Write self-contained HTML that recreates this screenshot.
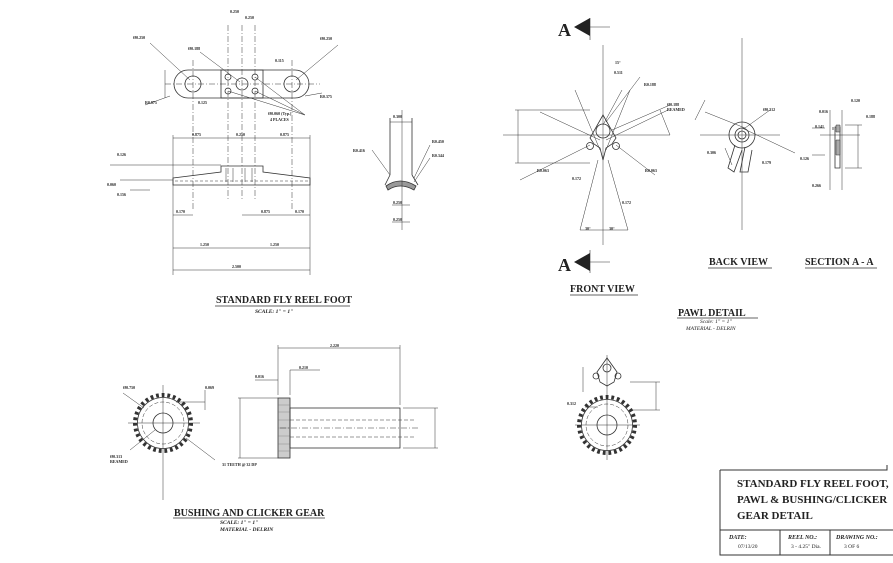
<!DOCTYPE html>
<html><head><meta charset="utf-8"><style>
html,body{margin:0;padding:0;background:#fff;}
svg{display:block;}
text{font-family:"Liberation Serif",serif;fill:#222;}
.s{font-family:"Liberation Sans",sans-serif;font-size:4px;font-weight:bold;}
.t{font-size:10px;font-weight:bold;}
</style></head><body>
<svg width="893" height="563" viewBox="0 0 893 563" xmlns="http://www.w3.org/2000/svg">
<rect width="893" height="563" fill="#fff"/>
<g stroke="#333" stroke-width="0.8" fill="none">
<path d="M188,70 H295 A14,14 0 0 1 295,98 H188 A14,14 0 0 1 188,70 Z"/>
<rect x="221" y="70" width="42" height="28"/>
<circle cx="193" cy="84" r="8"/><circle cx="242" cy="84" r="6"/><circle cx="292" cy="84" r="8"/>
<circle cx="228" cy="77" r="3"/><circle cx="255" cy="77" r="3"/><circle cx="228" cy="91" r="3"/><circle cx="255" cy="91" r="3"/>
<g stroke-width="0.5" stroke-dasharray="6,2,1,2">
<line x1="165" y1="84" x2="320" y2="84"/><line x1="228" y1="25" x2="228" y2="200"/><line x1="242" y1="25" x2="242" y2="200"/><line x1="255" y1="25" x2="255" y2="200"/>
<line x1="193" y1="60" x2="193" y2="210"/><line x1="292" y1="60" x2="292" y2="210"/></g>
<g stroke-width="0.5">
<line x1="165" y1="70" x2="165" y2="98"/><line x1="150" y1="43" x2="190" y2="80"/><line x1="338" y1="45" x2="296" y2="80"/>
<line x1="200" y1="52" x2="240" y2="82"/><line x1="255" y1="77" x2="305" y2="115"/><line x1="255" y1="91" x2="305" y2="115"/>
<line x1="228" y1="91" x2="305" y2="115"/><line x1="145" y1="105" x2="170" y2="96"/><line x1="322" y1="93" x2="305" y2="96"/>
<line x1="173" y1="135" x2="173" y2="275"/><line x1="310" y1="135" x2="310" y2="275"/>
<line x1="173" y1="138" x2="310" y2="138"/><line x1="173" y1="248" x2="310" y2="248"/><line x1="173" y1="270" x2="310" y2="270"/>
<line x1="173" y1="215" x2="193" y2="215"/><line x1="242" y1="215" x2="310" y2="215"/>
<line x1="110" y1="165" x2="221" y2="165"/><line x1="120" y1="180" x2="173" y2="180"/><line x1="130" y1="190" x2="150" y2="190"/>
</g>
<path d="M173,178 L221,172 V166 H263 V172 L310,178 V185 H173 Z"/>
<path d="M175,181 H308" stroke-dasharray="3,2" stroke-width="0.5"/>
<g stroke-width="0.5"><line x1="226" y1="168" x2="226" y2="182"/><line x1="233" y1="168" x2="233" y2="182"/><line x1="245" y1="168" x2="245" y2="182"/><line x1="252" y1="168" x2="252" y2="182"/></g>
<path d="M390,118 V175 M412,118 V175 M390,175 L385,185 M412,175 L418,185"/>
<path d="M386,186 Q400,176 416,186 L414,190 Q400,182 388,190 Z" fill="#999"/>
<g stroke-width="0.5"><line x1="390" y1="122" x2="412" y2="122"/><line x1="402" y1="110" x2="402" y2="230"/><line x1="392" y1="205" x2="410" y2="205"/><line x1="392" y1="222" x2="410" y2="222"/><line x1="372" y1="150" x2="390" y2="175"/><line x1="430" y1="145" x2="414" y2="178"/><line x1="430" y1="158" x2="414" y2="182"/></g>
<g stroke-width="0.6"><line x1="590" y1="18" x2="590" y2="40"/><line x1="590" y1="27" x2="610" y2="27"/><line x1="590" y1="250" x2="590" y2="273"/><line x1="590" y1="262" x2="610" y2="262"/></g>
<path d="M574,27 L590,18 V36 Z M574,262 L590,253 V271 Z" fill="#222" stroke="none"/>
<g stroke-width="0.5">
<line x1="503" y1="135" x2="670" y2="135"/><line x1="603" y1="45" x2="603" y2="245"/>
<line x1="575" y1="90" x2="600" y2="150"/><line x1="630" y1="90" x2="606" y2="150"/>
<line x1="540" y1="112" x2="600" y2="140"/><line x1="668" y1="110" x2="606" y2="140"/>
<line x1="622" y1="90" x2="603" y2="125"/><line x1="580" y1="230" x2="598" y2="160"/><line x1="628" y1="230" x2="608" y2="160"/>
<line x1="580" y1="230" x2="628" y2="230"/><line x1="515" y1="110" x2="590" y2="110"/><line x1="515" y1="163" x2="590" y2="163"/>
<line x1="518" y1="110" x2="518" y2="163"/><line x1="520" y1="180" x2="590" y2="145"/><line x1="655" y1="175" x2="616" y2="145"/>
<line x1="640" y1="77" x2="606" y2="122"/><line x1="670" y1="105" x2="612" y2="130"/><line x1="660" y1="110" x2="670" y2="135"/>
</g>
<path d="M590,138 L603,115 L616,138 L612,144 L606,148 L603,160 L600,148 L594,144 Z"/>
<circle cx="603" cy="131" r="7"/><circle cx="590" cy="146" r="3.5"/><circle cx="616" cy="146" r="3.5"/>
<g stroke-width="0.5"><line x1="700" y1="135" x2="780" y2="135"/><line x1="742" y1="38" x2="742" y2="230"/><line x1="742" y1="128" x2="795" y2="153"/><line x1="705" y1="112" x2="745" y2="128"/><line x1="695" y1="120" x2="705" y2="100"/><line x1="745" y1="128" x2="770" y2="110"/><line x1="725" y1="148" x2="732" y2="165"/></g>
<circle cx="742" cy="135" r="13"/><circle cx="742" cy="135" r="7"/><circle cx="742" cy="135" r="4"/>
<path d="M735,145 L728,168 L734,172 L742,150 M745,147 L740,172 L748,172 L752,150"/>
<path d="M835,127 H840 V168 H835 Z M833,127 V130"/>
<path d="M836,140 H840 V155 H836 Z M836,125 H840 V132 H836 Z" fill="#aaa" stroke-width="0.5"/>
<g stroke-width="0.5"><line x1="820" y1="135" x2="860" y2="135"/><line x1="830" y1="110" x2="830" y2="190"/><line x1="842" y1="110" x2="842" y2="190"/><line x1="845" y1="125" x2="862" y2="125"/><line x1="845" y1="168" x2="862" y2="168"/><line x1="858" y1="125" x2="858" y2="168"/><line x1="812" y1="128" x2="825" y2="128"/><line x1="812" y1="155" x2="825" y2="155"/></g>
<circle cx="163" cy="423" r="21" stroke-dasharray="4,2" stroke-width="0.5"/>
<circle cx="163" cy="423" r="10"/>
<circle cx="163" cy="423" r="28" stroke-dasharray="2.8,2.87" stroke-width="4"/>
<circle cx="163" cy="423" r="25.5"/>
<g stroke-width="0.5"><line x1="163" y1="385" x2="163" y2="500"/><line x1="128" y1="423" x2="200" y2="423"/>
<line x1="123" y1="393" x2="144" y2="408"/><line x1="130" y1="450" x2="155" y2="430"/><line x1="186" y1="438" x2="215" y2="460"/><line x1="176" y1="402" x2="205" y2="402"/><line x1="205" y1="390" x2="205" y2="410"/></g>
<rect x="278" y="398" width="12" height="60" fill="#ccc"/>
<g stroke-width="0.3" stroke="#666"><line x1="278" y1="405" x2="290" y2="405"/><line x1="278" y1="412" x2="290" y2="412"/><line x1="278" y1="420" x2="290" y2="420"/><line x1="278" y1="428" x2="290" y2="428"/><line x1="278" y1="436" x2="290" y2="436"/><line x1="278" y1="444" x2="290" y2="444"/><line x1="278" y1="451" x2="290" y2="451"/></g>
<rect x="290" y="408" width="110" height="40"/>
<g stroke-width="0.5"><line x1="290" y1="420" x2="415" y2="420" stroke-dasharray="4,2"/><line x1="290" y1="437" x2="415" y2="437" stroke-dasharray="4,2"/><line x1="280" y1="428" x2="420" y2="428" stroke-dasharray="6,2,1,2"/>
<line x1="278" y1="345" x2="278" y2="395"/><line x1="400" y1="345" x2="400" y2="405"/><line x1="278" y1="348" x2="400" y2="348"/>
<line x1="238" y1="398" x2="278" y2="398"/><line x1="238" y1="458" x2="278" y2="458"/><line x1="240" y1="398" x2="240" y2="458"/>
<line x1="403" y1="408" x2="438" y2="408"/><line x1="403" y1="448" x2="438" y2="448"/><line x1="435" y1="408" x2="435" y2="448"/>
<line x1="290" y1="370" x2="290" y2="395"/><line x1="290" y1="370" x2="320" y2="370"/><line x1="255" y1="380" x2="278" y2="380"/></g>
<circle cx="607" cy="425" r="28" stroke-dasharray="2.8,2.87" stroke-width="4"/>
<circle cx="607" cy="425" r="25.5"/>
<circle cx="607" cy="425" r="21" stroke-dasharray="4,2" stroke-width="0.5"/>
<circle cx="607" cy="425" r="10"/>
<path d="M597,372 L607,358 L617,372 L614,382 L607,386 L600,382 Z"/>
<circle cx="596" cy="376" r="3"/><circle cx="618" cy="376" r="3"/><circle cx="607" cy="368" r="4"/>
<g stroke-width="0.5"><line x1="607" y1="355" x2="607" y2="460"/><line x1="575" y1="425" x2="640" y2="425"/><line x1="583" y1="367" x2="583" y2="392"/><line x1="630" y1="382" x2="660" y2="382"/><line x1="630" y1="410" x2="660" y2="410"/><line x1="656" y1="382" x2="656" y2="410"/><line x1="585" y1="407" x2="598" y2="407"/></g>
<g stroke-width="0.8"><line x1="215" y1="306" x2="350" y2="306"/><line x1="570" y1="295" x2="638" y2="295"/><line x1="708" y1="268" x2="772" y2="268"/><line x1="805" y1="268" x2="877" y2="268"/><line x1="677" y1="318" x2="758" y2="318"/><line x1="173" y1="518" x2="325" y2="518"/></g>
<path d="M720,470 V555 H893 M720,470 H887 V465 M720,530 H893 M780,530 V555 M830,530 V555" stroke-width="1"/>
</g>
<g class="s">
<text x="133" y="39">Ø0.250</text><text x="320" y="40">Ø0.250</text><text x="188" y="50">Ø0.188</text><text x="230" y="13">0.250</text><text x="245" y="19">0.250</text><text x="275" y="62">0.115</text>
<text x="145" y="104">R0.875</text><text x="198" y="104">0.125</text><text x="320" y="98">R0.375</text><text x="268" y="115">Ø0.060 (Typ.)</text><text x="270" y="121">4 PLACES</text>
<text x="192" y="136">0.875</text><text x="236" y="136">0.250</text><text x="280" y="136">0.875</text>
<text x="117" y="156">0.126</text><text x="107" y="186">0.060</text><text x="117" y="196">0.156</text>
<text x="176" y="213">0.170</text><text x="261" y="213">0.875</text><text x="295" y="213">0.170</text>
<text x="200" y="246">1.250</text><text x="270" y="246">1.250</text><text x="232" y="268">2.500</text>
<text x="393" y="118">0.300</text><text x="353" y="152">R0.416</text><text x="432" y="143">R0.450</text><text x="432" y="157">R0.344</text><text x="393" y="204">0.250</text><text x="393" y="221">0.250</text>
<text x="615" y="64">15°</text><text x="614" y="74">0.511</text><text x="644" y="86">R0.188</text><text x="667" y="106">Ø0.188</text><text x="667" y="111">REAMED</text><text x="537" y="172">R0.063</text><text x="645" y="172">R0.063</text><text x="572" y="180">0.172</text><text x="622" y="204">0.172</text><text x="585" y="230">30°</text><text x="609" y="230">30°</text>
<text x="763" y="111">Ø0.312</text><text x="707" y="154">0.306</text><text x="762" y="164">0.179</text><text x="819" y="113">0.016</text><text x="851" y="102">0.120</text><text x="866" y="118">0.188</text><text x="815" y="128">0.141</text><text x="800" y="160">0.126</text><text x="812" y="187">0.266</text>
<text x="123" y="389">Ø0.750</text><text x="205" y="389">0.069</text><text x="110" y="458">Ø0.313</text><text x="110" y="463">REAMED</text><text x="222" y="466">31 TEETH @ 32 DP</text>
<text x="330" y="347">2.220</text><text x="299" y="369">0.210</text><text x="255" y="378">0.016</text><text x="567" y="405">0.312</text>
</g>
<text x="558" y="36" font-size="18" font-weight="bold">A</text>
<text x="558" y="271" font-size="18" font-weight="bold">A</text>
<text class="t" x="216" y="303">STANDARD FLY REEL FOOT</text>
<text x="255" y="313" font-size="5.5" font-weight="bold" font-style="italic">SCALE: 1" = 1"</text>
<text class="t" x="570" y="292">FRONT VIEW</text>
<text class="t" x="709" y="265">BACK VIEW</text>
<text class="t" x="805" y="265">SECTION A - A</text>
<text class="t" x="678" y="316" font-size="11">PAWL DETAIL</text>
<text x="700" y="323" font-size="5.5" font-style="italic" font-family="Liberation Sans">Scale: 1" = 1"</text>
<text x="686" y="330" font-size="5.5" font-style="italic" font-family="Liberation Sans">MATERIAL - DELRIN</text>
<text class="t" x="174" y="516">BUSHING AND CLICKER GEAR</text>
<text x="220" y="524" font-size="5.5" font-weight="bold" font-style="italic">SCALE: 1" = 1"</text>
<text x="220" y="531" font-size="5.5" font-weight="bold" font-style="italic">MATERIAL - DELRIN</text>
<text x="737" y="487" font-size="11" font-weight="bold">STANDARD FLY REEL FOOT,</text>
<text x="737" y="503" font-size="11" font-weight="bold">PAWL  &amp; BUSHING/CLICKER</text>
<text x="737" y="519" font-size="11" font-weight="bold">GEAR DETAIL</text>
<text x="729" y="539" font-size="6" font-weight="bold" font-style="italic">DATE:</text>
<text x="788" y="539" font-size="6" font-weight="bold" font-style="italic">REEL NO.:</text>
<text x="836" y="539" font-size="6" font-weight="bold" font-style="italic">DRAWING NO.:</text>
<text x="738" y="548" font-size="5.5" font-family="Liberation Sans">07/13/20</text>
<text x="791" y="548" font-size="5.5" font-family="Liberation Sans">3 - 4.25" Dia.</text>
<text x="844" y="548" font-size="5.5" font-family="Liberation Sans">3 OF 6</text>
</svg>
</body></html>
